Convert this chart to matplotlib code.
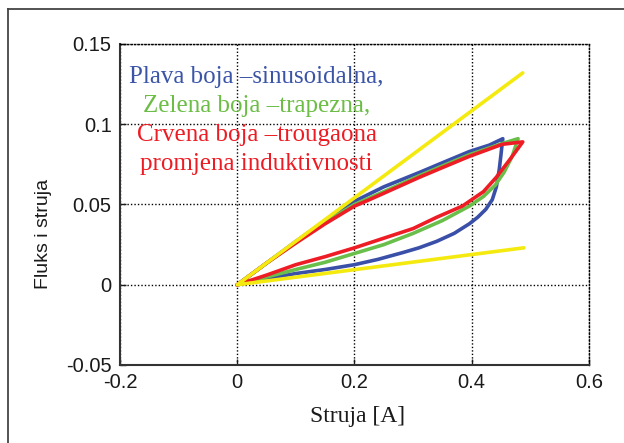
import matplotlib.pyplot as plt
from matplotlib.lines import Line2D

# loops: upper branch from origin to tip, then lower branch back to origin
blue_x = [0, 0.05, 0.10, 0.15, 0.20, 0.25, 0.311, 0.35, 0.396, 0.43, 0.453,
          0.451, 0.450, 0.447, 0.442, 0.435, 0.424, 0.41, 0.396, 0.37, 0.34,
          0.31, 0.282, 0.24, 0.20, 0.15, 0.10, 0.05, 0]
blue_y = [0, 0.0135, 0.027, 0.040, 0.052, 0.061, 0.070, 0.076, 0.083, 0.087, 0.091,
          0.085, 0.0815, 0.072, 0.061, 0.053, 0.047, 0.042, 0.038, 0.032, 0.027,
          0.023, 0.020, 0.0158, 0.0125, 0.0095, 0.007, 0.0038, 0]

green_x = [0, 0.05, 0.10, 0.15, 0.20, 0.25, 0.311, 0.35, 0.396, 0.452, 0.479,
           0.469, 0.455, 0.44, 0.42, 0.396, 0.35, 0.30, 0.25, 0.20, 0.15, 0.10, 0.05, 0]
green_y = [0, 0.0135, 0.0265, 0.039, 0.050, 0.058, 0.068, 0.074, 0.081, 0.088, 0.091,
           0.080, 0.070, 0.062, 0.055, 0.049, 0.040, 0.032, 0.025, 0.0195, 0.014, 0.0095, 0.0048, 0]

red_x = [0, 0.05, 0.10, 0.15, 0.20, 0.2255, 0.25, 0.311, 0.35, 0.396, 0.452, 0.487,
         0.465, 0.442, 0.42, 0.384, 0.34, 0.30, 0.25, 0.20, 0.15, 0.10, 0.05, 0]
red_y = [0, 0.0135, 0.026, 0.038, 0.049, 0.053, 0.057, 0.067, 0.073, 0.080, 0.0875, 0.089,
         0.078, 0.067, 0.058, 0.049, 0.042, 0.035, 0.029, 0.023, 0.0175, 0.0125, 0.006, 0]

yellow_x = [0.487, 0, 0.489]
yellow_y = [0.132, 0, 0.023]

note_lines = ['Plava boja \u2013sinusoidalna,', 'Zelena boja \u2013trapezna,',
              'Crvena boja \u2013trougaona', 'promjena induktivnosti']
note_colors = ['#3b54a6', '#6cbd45', '#ed1c24', '#ed1c24']

xticks = [-0.2, 0, 0.2, 0.4, 0.6]
yticks = [-0.05, 0, 0.05, 0.1, 0.15]
xtick_labels = ['-0.2', '0', '0.2', '0.4', '0.6']
ytick_labels = ['-0.05', '0', '0.05', '0.1', '0.15']

fig = plt.figure(figsize=(6.24, 4.43), dpi=100)
ax = fig.add_axes([0.1923, 0.1761, 0.7516, 0.7246])

lw = 2.6
for xs, ys, c in [(blue_x, blue_y, '#3a4fa8'), (green_x, green_y, '#6abf4b'),
                  (red_x, red_y, '#ee1c24'), (yellow_x, yellow_y, '#f5ea0f')]:
    ax.plot(xs, ys, color=c, lw=lw, solid_joinstyle='round', solid_capstyle='round')

ax.set_xlim(-0.2, 0.6)
ax.set_ylim(-0.05, 0.15)
ax.set_xticks(xticks)
ax.set_yticks(yticks)
ax.set_xticklabels(xtick_labels, family='Liberation Sans', fontsize=14.5)
ax.set_yticklabels(ytick_labels, family='Liberation Sans', fontsize=14.5)
ax.tick_params(direction='in', length=4, width=1, pad=6, colors='#1a1a1a')

ax.grid(True, color='black', linestyle=(0, (1, 1.5)), linewidth=1)
for side in ['left', 'bottom']:
    ax.spines[side].set_color('#333333')
    ax.spines[side].set_linewidth(1.5)
for side in ['top', 'right']:
    ax.spines[side].set_color('black')
    ax.spines[side].set_linestyle((0, (1, 1.5)))
    ax.spines[side].set_linewidth(1)

ax.set_xlabel('Struja [A]', family='Liberation Serif', fontsize=17, color='#1a1a1a', va='center')
ax.xaxis.set_label_coords(0.506, -0.162)
ax.set_ylabel('Fluks i struja', family='Liberation Sans', fontsize=14, color='#1a1a1a', va='center')
ax.yaxis.set_label_coords(-0.164, 0.407)

baselines = [0.1255, 0.1075, 0.0893, 0.0715]
for txt, c, yb in zip(note_lines, note_colors, baselines):
    ax.text(0.033, yb, txt, color=c, family='Liberation Serif', fontsize=18,
            ha='center', va='baseline')

# outer frame around the figure
fig.add_artist(Line2D([0.0128, 1.0], [0.9797, 0.9797], transform=fig.transFigure,
                      color='#444444', lw=1.3))
fig.add_artist(Line2D([0.0128, 0.0128], [0.0, 0.9797], transform=fig.transFigure,
                      color='#444444', lw=1.3))

fig.savefig('out.png', dpi=100)
